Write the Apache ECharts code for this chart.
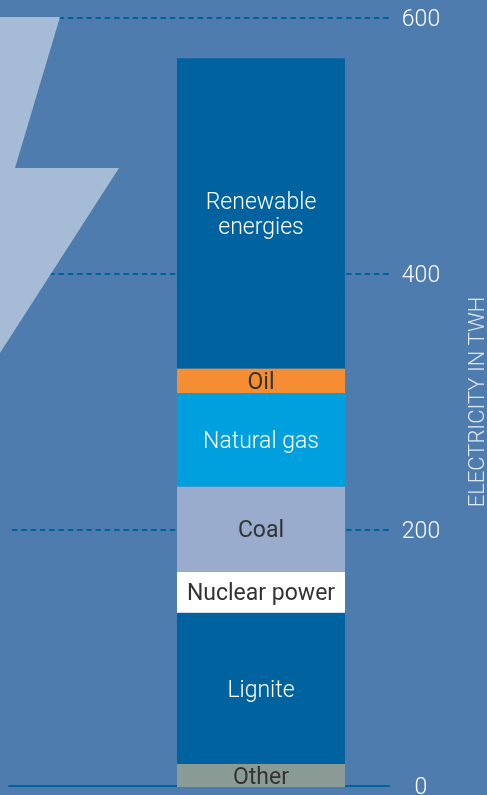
<!DOCTYPE html>
<html>
<head>
<meta charset="utf-8">
<style>
  html, body { margin: 0; padding: 0; background: #4f7cae; }
  #main { width: 487px; height: 795px; }
</style>
<script src="https://cdn.jsdelivr.net/npm/echarts@6/dist/echarts.min.js"></script>
</head>
<body>
<div id="main"></div>
<script>
// stacked from the bottom up, values in TWh
const sources = ['Other', 'Lignite', 'Nuclear power', 'Coal', 'Natural gas', 'Oil', 'Renewable\nenergies'];
const values = [18, 118, 32, 66.5, 73, 19, 242];
const colors = ['#8a9b95', '#0063a0', '#ffffff', '#99acce', '#009fdd', '#f58d32', '#0063a0'];
const labelColors = ['#333333', '#ffffff', '#333333', '#333333', '#ffffff', '#333333', '#ffffff'];
const labelWeights = [400, 300, 400, 400, 300, 400, 300];
const font = 'Roboto';

const chart = echarts.init(document.getElementById('main'));

const option = {
  backgroundColor: '#4f7cae',
  animation: false,
  graphic: [{
    // lightning bolt, sits over the grid lines but under the bar
    type: 'polygon',
    z: 1,
    shape: { points: [[0, 17], [60, 17], [15, 168], [119, 168], [0, 353]] },
    style: { fill: '#a5bbd6' }
  }],
  grid: [
    { left: 9, width: 380, top: 18, bottom: 9, outerBoundsMode: 'none' },
    { left: 133, width: 256, top: 18, bottom: 8, outerBoundsMode: 'none' }
  ],
  xAxis: [
    {
      gridIndex: 0,
      type: 'category',
      data: [''],
      axisLine: { lineStyle: { color: '#0063a0', width: 2 } },
      axisTick: { show: false },
      axisLabel: { show: false }
    },
    {
      gridIndex: 1,
      type: 'category',
      data: ['Electricity'],
      axisLine: { show: false },
      axisTick: { show: false },
      axisLabel: { show: false }
    }
  ],
  yAxis: [
    {
      gridIndex: 0,
      type: 'value',
      position: 'right',
      min: 0,
      max: 600,
      interval: 200,
      name: 'ELECTRICITY IN TWH',
      nameLocation: 'middle',
      nameRotate: 90,
      nameGap: 78,
      nameTextStyle: { color: '#dfe7f1', fontFamily: font, fontWeight: 300, fontSize: 22 },
      axisLine: { show: false },
      axisTick: { show: false },
      axisLabel: {
        margin: 32,
        align: 'center',
        formatter: '{v|{value}}',
        rich: {
          v: {
            padding: [5, 0, 0, 0],
            color: '#ffffff',
            fontFamily: font,
            fontWeight: 300,
            fontSize: 23
          }
        }
      },
      splitLine: {
        lineStyle: { color: '#0063a0', width: 2, type: [5.5, 3.78], dashOffset: 6.28 }
      }
    },
    {
      gridIndex: 1,
      type: 'value',
      min: 0,
      max: 600,
      interval: 200,
      axisLine: { show: false },
      axisTick: { show: false },
      axisLabel: { show: false },
      splitLine: { show: false }
    }
  ],
  series: sources.map((name, i) => ({
    name: name,
    type: 'bar',
    stack: 'total',
    xAxisIndex: 1,
    yAxisIndex: 1,
    barWidth: 168,
    z: 3,
    data: [values[i]],
    itemStyle: { color: colors[i] },
    label: {
      show: true,
      position: 'inside',
      offset: [0, 2.5],
      formatter: '{a}',
      color: labelColors[i],
      fontFamily: font,
      fontWeight: labelWeights[i],
      fontSize: 23,
      lineHeight: 25
    }
  }))
};

chart.setOption(option);
</script>
</body>
</html>
